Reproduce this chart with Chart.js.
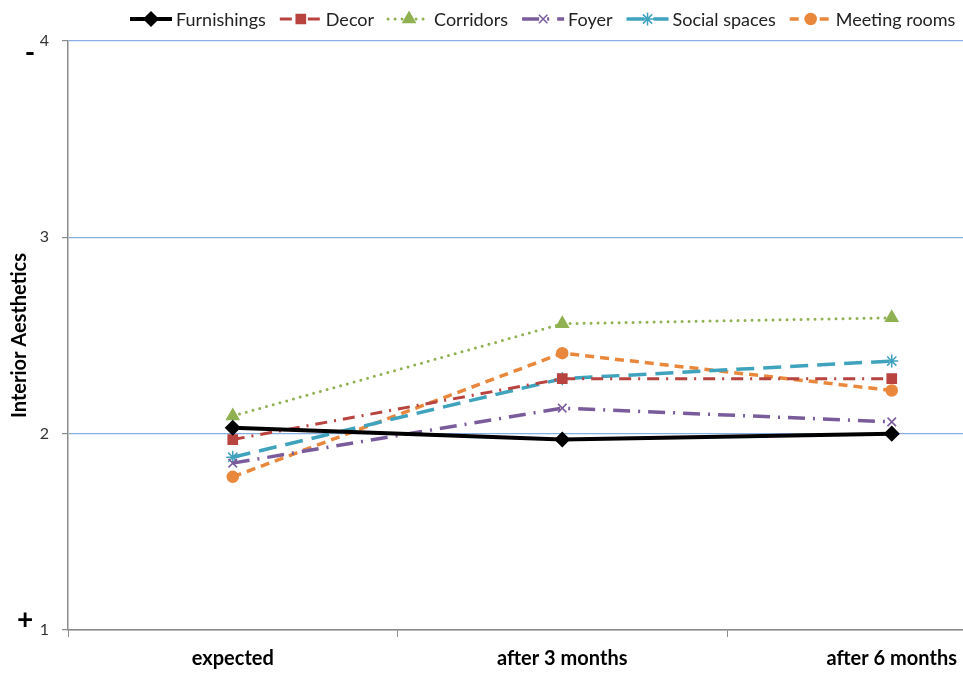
<!DOCTYPE html>
<html>
<head>
<meta charset="utf-8">
<script src="https://cdn.jsdelivr.net/npm/chart.js@4/dist/chart.umd.min.js"></script>
<style>
  html, body { margin: 0; padding: 0; background: #fff; overflow: hidden; }
  #wrap { width: 963px; height: 678px; overflow: hidden; position: relative; }
  canvas { display: block; }
</style>
</head>
<body>
<div id="wrap"><canvas id="c" width="1065" height="678"></canvas></div>
<script>
// Survey ratings of interior aesthetics (1 = best "+", 4 = worst "-")
const categories = ['expected', 'after 3 months', 'after 6 months'];
const furnishings  = [2.03, 1.97, 2.00];
const decor        = [1.97, 2.28, 2.28];
const corridors    = [2.09, 2.56, 2.59];
const foyer        = [1.85, 2.13, 2.06];
const socialSpaces = [1.88, 2.28, 2.37];
const meetingRooms = [1.78, 2.41, 2.22];
const yTicks = [1, 2, 3, 4];
const yTitle = 'Interior Aesthetics';

const FONT = 'Lato, "Open Sans", "Liberation Sans", sans-serif';
const GRID_BLUE = '#8aaee0';
const AXIS_GRAY = '#8c8c8c';

// the plot runs on past the right edge of the visible window
const canvas = document.getElementById('c');

function series(label, data, color, dash, width, style, radius, cap) {
  return {
    label, data,
    borderColor: color, backgroundColor: color,
    borderWidth: width, borderDash: dash, borderCapStyle: cap || 'butt',
    pointStyle: style, pointRadius: radius, pointHoverRadius: radius,
    pointBackgroundColor: color, pointBorderColor: color, pointBorderWidth: 1.5,
    tension: 0, fill: false
  };
}

const datasets = [
  series('Furnishings',   furnishings,  '#000000', [],            4, 'rectRot',  7),
  series('Decor',         decor,        '#b8433f', [12, 7, 2, 7], 3, 'rect',     6.5),
  series('Corridors',     corridors,    '#8fb151', [0, 7],        3, 'triangle', 7, 'round'),
  series('Foyer',         foyer,        '#7a5c9c', [17, 8, 2, 8], 3.5, 'crossRot', 6),
  series('Social spaces', socialSpaces, '#3fa3bd', [18, 9],       3.5, 'star',     6.5),
  series('Meeting rooms', meetingRooms, '#e9883d', [9, 6],        3.5, 'circle',   5.5)
];

// Legend row with line sample + marker, and the side annotations
const decorations = {
  id: 'decorations',
  afterDraw(chart) {
    const ctx = chart.ctx;
    ctx.save();
    // legend
    ctx.font = '18px ' + FONT;
    ctx.textBaseline = 'middle';
    let x = 130;
    const y = 19;
    chart.data.datasets.forEach(ds => {
      const sw = 42;
      ctx.save();
      ctx.strokeStyle = ds.borderColor;
      ctx.lineWidth = ds.borderWidth;
      ctx.lineCap = ds.borderCapStyle;
      ctx.setLineDash(ds.borderDash);
      ctx.beginPath();
      ctx.moveTo(x, y);
      ctx.lineTo(x + sw, y);
      ctx.stroke();
      ctx.setLineDash([]);
      ctx.fillStyle = ds.pointBackgroundColor;
      ctx.strokeStyle = ds.pointBorderColor;
      ctx.lineWidth = ds.pointBorderWidth;
      Chart.helpers.drawPoint(ctx, {
        pointStyle: ds.pointStyle, radius: ds.pointRadius,
        borderWidth: ds.pointBorderWidth, rotation: 0
      }, x + sw / 2, y);
      ctx.restore();
      ctx.fillStyle = '#222';
      ctx.textAlign = 'left';
      ctx.fillText(ds.label, x + sw + 4, y + 1);
      x += sw + 4 + ctx.measureText(ds.label).width + 14;
    });

    // y axis title
    const area = chart.chartArea;
    ctx.save();
    ctx.translate(20, (area.top + area.bottom) / 2);
    ctx.rotate(-Math.PI / 2);
    ctx.font = 'bold 20px ' + FONT;
    ctx.fillStyle = '#000';
    ctx.textAlign = 'center';
    ctx.textBaseline = 'middle';
    ctx.fillText(yTitle, 0, 0);
    ctx.restore();

    // scale direction markers
    ctx.fillStyle = '#000';
    ctx.textAlign = 'center';
    ctx.textBaseline = 'middle';
    ctx.font = 'bold 28px ' + FONT;
    ctx.fillText('-', 30, area.top + 12);
    ctx.fillText('+', 25, area.bottom - 10);
    ctx.restore();
  }
};

new Chart(canvas, {
  type: 'line',
  data: { labels: categories, datasets },
  plugins: [decorations],
  options: {
    responsive: false,
    devicePixelRatio: 1,
    animation: false,
    layout: { padding: { top: 41, right: 3, left: 0, bottom: 0 } },
    plugins: { legend: { display: false }, tooltip: { enabled: false } },
    scales: {
      x: {
        type: 'category',
        offset: true,
        afterFit(s) { s.height = 48; },
        grid: {
          offset: true, drawOnChartArea: false, drawTicks: true,
          tickLength: 7, tickColor: AXIS_GRAY, color: AXIS_GRAY
        },
        border: { color: AXIS_GRAY, width: 1.5 },
        ticks: {
          font: { family: FONT, size: 20, weight: 'bold' },
          color: '#000', padding: 10, maxRotation: 0
        }
      },
      y: {
        min: 1, max: 4,
        afterFit(s) { s.width = 68; },
        afterBuildTicks(s) { s.ticks = yTicks.map(v => ({ value: v })); },
        grid: {
          color: ctx => ctx.tick && ctx.tick.value === 1 ? AXIS_GRAY : GRID_BLUE,
          lineWidth: 1.2,
          tickLength: 6, tickColor: AXIS_GRAY
        },
        border: { color: AXIS_GRAY, width: 1.5 },
        ticks: {
          font: { family: FONT, size: 16 },
          color: '#333', padding: 13
        }
      }
    }
  }
});
</script>
</body>
</html>
